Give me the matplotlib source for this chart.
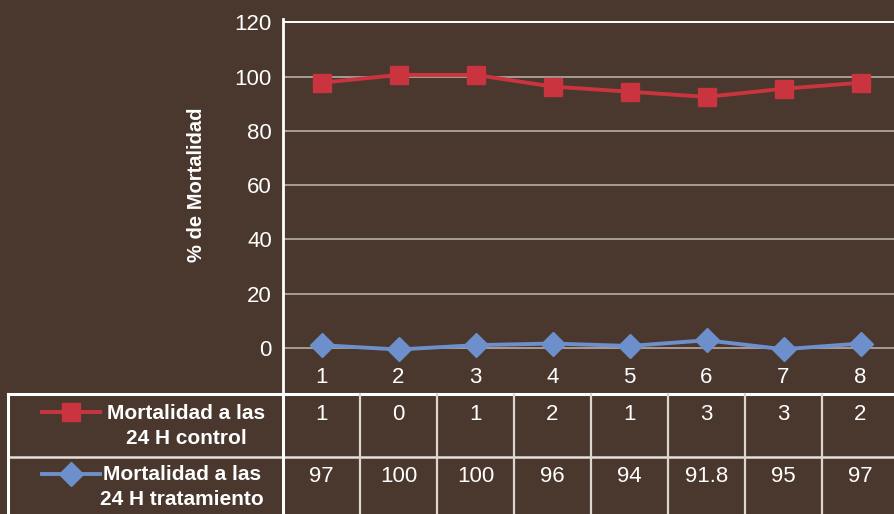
import matplotlib.pyplot as plt

# --- data ---
days = [1, 2, 3, 4, 5, 6, 7, 8]
red_vals = [97.7, 100.6, 100.6, 96.3, 94.4, 92.5, 95.5, 97.7]
blue_vals = [1.0, -0.6, 1.0, 1.6, 0.7, 2.8, -0.5, 1.6]

# --- data table text ---
row_control = ["1", "0", "1", "2", "1", "3", "3", "2"]
row_tratamiento = ["97", "100", "100", "96", "94", "91.8", "95", "97"]
row_labels = ["Mortalidad a las\n24 H control", "Mortalidad a las\n24 H tratamiento"]
yticks = [0, 20, 40, 60, 80, 100, 120]

bg = "#4a372d"
red = "#c9343f"
blue = "#6d8fcb"
grid = "#a69c94"
narrow = ["Liberation Sans Narrow", "Liberation Sans", "DejaVu Sans"]
wide = ["Liberation Sans", "DejaVu Sans"]

W, H = 894, 514
fig = plt.figure(figsize=(W / 100, H / 100), dpi=100, facecolor=bg)

# main plot area: x from 283px to 899px, y from 19px to 394px (from top)
ax = fig.add_axes([283 / W, (H - 394) / H, (899 - 283) / W, (394 - 19) / H])
ax.set_facecolor(bg)
ax.set_xlim(0.5, 8.5)
ax.set_ylim(-17, 121.2)

for t in yticks:
    ax.axhline(t, color="white" if t == 120 else grid, lw=1.4, zorder=1)

ax.plot(days, red_vals, color=red, lw=2.8, marker="s", ms=13, zorder=3)
ax.plot(days, blue_vals, color=blue, lw=2.8, marker="D", ms=12, zorder=3)

for s in ["top", "right", "bottom"]:
    ax.spines[s].set_visible(False)
ax.spines["left"].set_color("white")
ax.spines["left"].set_linewidth(2)

ax.set_xticks([])
ax.set_yticks(yticks)
ax.set_yticklabels([str(t) for t in yticks], fontfamily=narrow, fontsize=16, color="white")
ax.tick_params(axis="y", length=0, pad=8)

for d in days:
    ax.text(d, -10.8, str(d), ha="center", va="center", color="white",
            fontsize=16, fontfamily=narrow)

fig.text(197 / W, 1 - 185 / H, "% de Mortalidad", rotation=90, ha="center", va="center",
         color="white", fontsize=14.5, fontweight="bold", fontfamily=wide)

# --- data table drawn in pixel coordinates ---
tax = fig.add_axes([0, 0, 1, 1])
tax.set_xlim(0, W)
tax.set_ylim(0, H)
tax.axis("off")
tax.patch.set_alpha(0)

edges = [ax.transData.transform((d - 0.5, 0))[0] for d in days] + \
        [ax.transData.transform((8.5, 0))[0]]
centers = [ax.transData.transform((d, 0))[0] for d in days]

top_y, mid_y, bot_y = H - 394, H - 457, H - 522
left_x = 8

tax.plot([left_x, W + 10], [top_y, top_y], color="white", lw=2.2)
tax.plot([left_x, W + 10], [mid_y, mid_y], color="#e6e0dc", lw=1.8)
tax.plot([left_x, left_x], [top_y, bot_y], color="white", lw=2.2)
tax.plot([edges[0], edges[0]], [top_y, bot_y], color="white", lw=2.2)
for e in edges[1:]:
    tax.plot([e, e], [top_y, bot_y], color="#ddd6d0", lw=1.6)

for i, c in enumerate(centers):
    tax.text(c, H - 414, row_control[i], ha="center", va="center", color="white",
             fontsize=16, fontfamily=narrow)
    tax.text(c, H - 477, row_tratamiento[i], ha="center", va="center", color="white",
             fontsize=16, fontfamily=narrow)

# legend keys
tax.plot([42, 100], [H - 412, H - 412], color=red, lw=2.8)
tax.plot([71], [H - 412], color=red, marker="s", ms=13, ls="none")
tax.plot([42, 100], [H - 474, H - 474], color=blue, lw=2.8)
tax.plot([71], [H - 474], color=blue, marker="D", ms=12, ls="none")

tax.text(186, H - 426, row_labels[0], ha="center", va="center", color="white",
         fontsize=15, fontweight="bold", fontfamily=wide, linespacing=1.35)
tax.text(182, H - 487, row_labels[1], ha="center", va="center", color="white",
         fontsize=15, fontweight="bold", fontfamily=wide, linespacing=1.35)

fig.savefig("out.png", dpi=100, facecolor=bg)
